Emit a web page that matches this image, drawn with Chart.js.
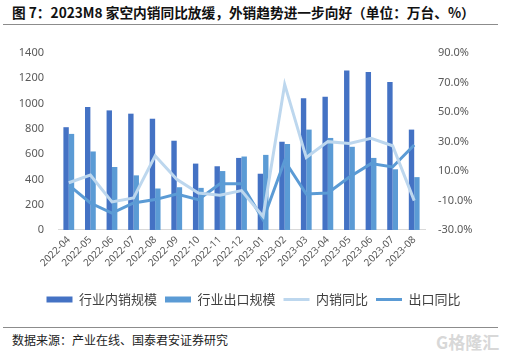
<!DOCTYPE html>
<html>
<head>
<meta charset="utf-8">
<script src="https://cdn.jsdelivr.net/npm/chart.js@4"></script>
<style>
  html, body { margin: 0; padding: 0; background: #fff; }
  body { width: 507px; height: 353px; position: relative; overflow: hidden; font-family: "Noto Sans CJK SC", "Noto Sans", sans-serif; }
  #title { position: absolute; left: 12px; top: 3px; font-size: 13.7px; font-weight: bold; color: #111; white-space: nowrap; line-height: 18px; }
  .rule { position: absolute; left: 3px; width: 495px; height: 0; border-top: 1px solid #8c8c8c; }
  #source { position: absolute; left: 12px; top: 332px; font-size: 12px; color: #222; white-space: nowrap; line-height: 16px; }
  #wm { position: absolute; left: 436px; top: 329px; font-size: 17px; color: #d8d8d8; white-space: nowrap; font-weight: bold; }
  #wrap { position: absolute; left: 0; top: 26px; width: 507px; height: 300px; }
</style>
</head>
<body>
<div id="title">图 7：2023M8 家空内销同比放缓，外销趋势进一步向好（单位：万台、%）</div>
<div class="rule" style="top:24px"></div>
<div id="wrap"><canvas id="c" width="507" height="300"></canvas></div>
<div class="rule" style="top:327px"></div>
<div id="source">数据来源：产业在线、国泰君安证券研究</div>
<div id="wm">G格隆汇</div>
<script>
const categories = ["2022-04","2022-05","2022-06","2022-07","2022-08","2022-09","2022-10","2022-11","2022-12","2023-01","2023-02","2023-03","2023-04","2023-05","2023-06","2023-07","2023-08"];
const domesticVolume = [813, 973, 946, 920, 880, 706, 525, 504, 570, 445, 698, 1042, 1053, 1261, 1250, 1170, 794];
const exportVolume = [760, 621, 498, 432, 328, 338, 333, 466, 581, 594, 680, 794, 728, 658, 570, 480, 418];
const domesticYoY = [2.0, 7.2, -11.0, -8.3, 20.3, 4.3, -4.9, -6.5, -3.3, -20.9, 68.7, 19.1, 29.9, 28.7, 32.1, 27.1, -10.1];
const exportYoY = [0.4, -11.7, -18.6, -11.7, -9.4, -5.6, -9.4, 1.3, 1.3, -23.1, 16.9, -5.6, -4.9, 5.9, 15.0, 12.7, 27.6];
const seriesNames = ["行业内销规模", "行业出口规模", "内销同比", "出口同比"];

const tickFont = { family: "'Noto Sans', 'Noto Sans CJK SC', sans-serif", size: 11 };
const tickColor = "#595959";

new Chart(document.getElementById("c"), {
  data: {
    labels: categories,
    datasets: [
      { type: "bar", label: seriesNames[0], data: domesticVolume, backgroundColor: "#4472C4", yAxisID: "y", order: 1, categoryPercentage: 0.5, barPercentage: 1.0, pointStyle: "rect", borderWidth: 0 },
      { type: "bar", label: seriesNames[1], data: exportVolume, backgroundColor: "#5B9BD5", yAxisID: "y", order: 1, categoryPercentage: 0.5, barPercentage: 1.0, pointStyle: "rect", borderWidth: 0 },
      { type: "line", label: seriesNames[2], data: domesticYoY, borderColor: "#BDD7EE", backgroundColor: "#BDD7EE", borderWidth: 3, pointRadius: 0, tension: 0, yAxisID: "y1", order: 0, pointStyle: "line" },
      { type: "line", label: seriesNames[3], data: exportYoY, borderColor: "#5B9BD5", backgroundColor: "#5B9BD5", borderWidth: 3, pointRadius: 0, tension: 0, yAxisID: "y1", order: 0, pointStyle: "line" }
    ]
  },
  options: {
    responsive: false,
    animation: false,
    devicePixelRatio: 1,
    layout: { padding: { left: 0, right: 0, top: 27, bottom: 10 } },
    plugins: {
      tooltip: { enabled: false },
      legend: {
        position: "bottom",
        labels: {
          usePointStyle: true,
          pointStyleWidth: 26,
          boxHeight: 6,
          padding: 8,
          color: "#404040",
          font: { family: "'Noto Sans CJK SC', sans-serif", size: 13 },
          sort: (a, b) => a.datasetIndex - b.datasetIndex
        }
      }
    },
    scales: {
      x: {
        grid: { display: false, drawTicks: false },
        border: { display: true, color: "#D9D9D9", width: 1 },
        ticks: { color: tickColor, font: { family: "'Noto Sans', sans-serif", size: 10 }, maxRotation: 45, minRotation: 45, padding: 4 },
        afterFit: (axis) => { axis.height += 12; }
      },
      y: {
        position: "left",
        min: 0, max: 1400,
        grid: { display: false, drawTicks: false },
        border: { display: false },
        ticks: { stepSize: 200, color: tickColor, font: tickFont, padding: 14, callback: (v) => String(v) },
        afterFit: (axis) => { axis.width = 58; }
      },
      y1: {
        position: "right",
        min: -30, max: 90,
        grid: { display: false, drawTicks: false },
        border: { display: false },
        ticks: { stepSize: 20, color: tickColor, font: tickFont, padding: 13, callback: (v) => v.toFixed(1) + "%" },
        afterFit: (axis) => { axis.width = 82; }
      }
    }
  }
});
</script>
</body>
</html>
